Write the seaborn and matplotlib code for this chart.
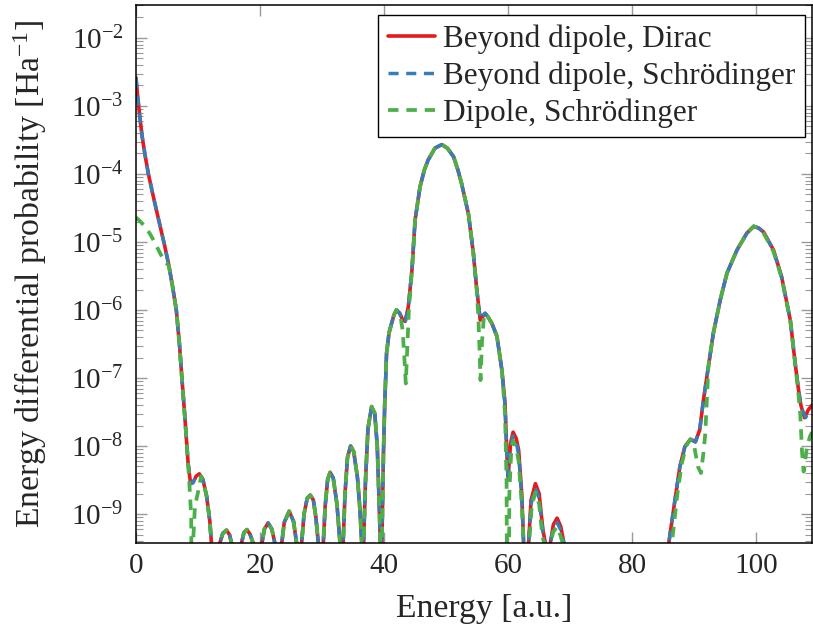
import numpy as np
import pandas as pd
import matplotlib
matplotlib.use("Agg")
import matplotlib.pyplot as plt
import seaborn as sns
from matplotlib.ticker import FixedLocator, NullLocator, NullFormatter

# ---------------- data (energy [a.u.], probability [1/Ha]) ----------------
dirac = [
    (0.0, 2.6e-3), (0.25, 1.45e-3), (0.6, 7.1e-4), (1.0, 3.5e-4), (1.5, 1.8e-4), (2.0, 1.0e-4),
    (2.6, 5.6e-5), (3.2, 3.2e-5), (3.9, 1.7e-5), (4.6, 9.0e-6), (5.3, 4.5e-6), (5.9, 2.2e-6),
    (6.5, 1.0e-6), (7.0, 3.2e-7), (7.4, 1.0e-7), (7.9, 2.5e-8), (8.4, 5.6e-9), (8.8, 2.8e-9),
    (9.2, 2.9e-9), (9.7, 3.6e-9), (10.2, 3.9e-9), (10.8, 3.2e-9), (11.4, 1.8e-9), (11.9, 7.9e-10),
    (12.3, 2.5e-10), (12.6, 1e-12),
    (13.0, 1e-12), (13.5, 3.7e-10), (14.0, 5.2e-10), (14.6, 5.8e-10), (15.1, 4.9e-10), (15.4, 3.7e-10), (15.8, 1e-12),
    (16.5, 1e-12), (17.0, 3.7e-10), (17.4, 5.3e-10), (17.9, 5.9e-10), (18.4, 5.0e-10), (18.9, 3.7e-10), (19.3, 1e-12),
    (19.8, 1e-12), (20.3, 3.7e-10), (20.7, 6.0e-10), (21.3, 7.4e-10), (21.9, 6.0e-10), (22.4, 3.7e-10), (22.8, 1e-12),
    (23.1, 1e-12), (23.5, 3.7e-10), (23.9, 7.5e-10), (24.7, 1.1e-9), (25.4, 7.8e-10), (25.9, 3.7e-10), (26.3, 1e-12),
    (26.4, 1e-12), (26.7, 3.7e-10), (27.1, 1.0e-9), (27.6, 1.7e-9), (28.1, 1.9e-9), (28.6, 1.6e-9), (29.0, 9e-10),
    (29.4, 3.7e-10), (29.7, 1e-12),
    (29.9, 1e-12), (30.2, 3.7e-10), (30.5, 1.3e-9), (30.9, 3.2e-9), (31.3, 4.1e-9), (31.8, 3.4e-9), (32.4, 1.4e-9),
    (32.9, 3.7e-10), (33.1, 1e-12),
    (33.2, 1e-12), (33.4, 3.7e-10), (33.7, 2.0e-9), (34.1, 6.8e-9), (34.6, 1.0e-8), (35.1, 8.3e-9), (35.7, 3.5e-9),
    (36.1, 1.2e-9), (36.4, 3.7e-10), (36.5, 1e-12),
    (36.55, 1e-12), (36.7, 3.7e-10), (37.0, 3.0e-9), (37.4, 1.8e-8), (38.0, 3.8e-8), (38.5, 3.0e-8), (38.9, 1.0e-8),
    (39.2, 1.5e-9), (39.4, 3.7e-10), (39.5, 1e-12),
    (39.55, 1e-12), (39.65, 3.7e-10), (39.9, 7.8e-9), (40.1, 4.0e-8), (40.4, 2.3e-7), (40.8, 4.6e-7), (41.2, 6.3e-7),
    (41.6, 8.5e-7), (42.0, 1.0e-6), (42.5, 9.0e-7), (43.0, 7.2e-7), (43.4, 6.8e-7), (43.9, 1.1e-6), (44.5, 3.9e-6),
    (45.0, 2.1e-5), (45.8, 6.5e-5), (46.5, 1.15e-4), (47.1, 1.6e-4), (48.2, 2.4e-4), (49.3, 2.7e-4), (50.2, 2.4e-4),
    (51.2, 1.8e-4), (51.9, 1.15e-4), (52.5, 7.2e-5), (53.6, 2.6e-5), (54.4, 6.8e-6), (54.9, 2.2e-6), (55.5, 7.1e-7),
    (55.9, 8.0e-7), (56.3, 8.9e-7), (56.8, 7.8e-7), (57.4, 6.3e-7), (58.2, 4.1e-7), (59.0, 1.3e-7), (59.5, 4.3e-8),
    (59.8, 7.8e-9), (60.0, 3.5e-9), (60.4, 1.1e-8), (60.8, 1.6e-8), (61.3, 1.3e-8), (61.7, 8.7e-9), (62.2, 2.0e-9),
    (62.5, 3.7e-10), (62.8, 1e-12),
    (63.0, 1e-12), (63.3, 3.7e-10), (63.7, 1.6e-9), (64.4, 2.8e-9), (65.0, 2.0e-9), (65.6, 6e-10), (66.0, 3.7e-10), (66.3, 1e-12),
    (66.6, 1e-12), (66.8, 3.7e-10), (67.3, 7.0e-10), (67.9, 8.7e-10), (68.5, 6.5e-10), (69.0, 3.7e-10), (69.3, 1e-12),
    (85.6, 1e-12), (85.9, 3.7e-10), (86.9, 1.6e-9), (87.7, 5.0e-9), (88.5, 9.8e-9), (89.4, 1.26e-8), (90.2, 1.15e-8),
    (90.9, 1.74e-8), (91.5, 4.8e-8), (92.3, 1.5e-7), (93.1, 4.6e-7), (94.2, 1.4e-6), (95.3, 3.5e-6), (96.9, 7.6e-6),
    (98.5, 1.35e-5), (99.6, 1.7e-5), (100.4, 1.6e-5), (101.2, 1.4e-5), (102.8, 7.6e-6), (104.1, 3.1e-6), (105.5, 7.1e-7),
    (106.3, 1.6e-7), (106.8, 7.0e-8), (107.2, 4.0e-8), (107.8, 2.6e-8), (108.4, 3.4e-8), (109.0, 4.0e-8),
]

schroedinger = [
    (0.0, 2.6e-3), (0.25, 1.45e-3), (0.6, 7.1e-4), (1.0, 3.5e-4), (1.5, 1.8e-4), (2.0, 1.0e-4),
    (2.6, 5.6e-5), (3.2, 3.2e-5), (3.9, 1.7e-5), (4.6, 9.0e-6), (5.3, 4.5e-6), (5.9, 2.2e-6),
    (6.5, 1.0e-6), (7.0, 3.2e-7), (7.4, 1.0e-7), (7.9, 2.5e-8), (8.4, 5.6e-9), (8.8, 2.8e-9),
    (9.2, 2.9e-9), (9.7, 3.6e-9), (10.2, 3.9e-9), (10.8, 3.2e-9), (11.4, 1.8e-9), (11.9, 7.9e-10),
    (12.3, 2.5e-10), (12.6, 1e-12),
    (13.0, 1e-12), (13.5, 3.7e-10), (14.0, 5.2e-10), (14.6, 5.8e-10), (15.1, 4.9e-10), (15.4, 3.7e-10), (15.8, 1e-12),
    (16.5, 1e-12), (17.0, 3.7e-10), (17.4, 5.3e-10), (17.9, 5.9e-10), (18.4, 5.0e-10), (18.9, 3.7e-10), (19.3, 1e-12),
    (19.8, 1e-12), (20.3, 3.7e-10), (20.7, 6.0e-10), (21.3, 7.4e-10), (21.9, 6.0e-10), (22.4, 3.7e-10), (22.8, 1e-12),
    (23.1, 1e-12), (23.5, 3.7e-10), (23.9, 7.5e-10), (24.7, 1.1e-9), (25.4, 7.8e-10), (25.9, 3.7e-10), (26.3, 1e-12),
    (26.4, 1e-12), (26.7, 3.7e-10), (27.1, 1.0e-9), (27.6, 1.7e-9), (28.1, 1.9e-9), (28.6, 1.6e-9), (29.0, 9e-10),
    (29.4, 3.7e-10), (29.7, 1e-12),
    (29.9, 1e-12), (30.2, 3.7e-10), (30.5, 1.3e-9), (30.9, 3.2e-9), (31.3, 4.1e-9), (31.8, 3.4e-9), (32.4, 1.4e-9),
    (32.9, 3.7e-10), (33.1, 1e-12),
    (33.2, 1e-12), (33.4, 3.7e-10), (33.7, 2.0e-9), (34.1, 6.8e-9), (34.6, 1.0e-8), (35.1, 8.3e-9), (35.7, 3.5e-9),
    (36.1, 1.2e-9), (36.4, 3.7e-10), (36.5, 1e-12),
    (36.55, 1e-12), (36.7, 3.7e-10), (37.0, 3.0e-9), (37.4, 1.8e-8), (38.0, 3.8e-8), (38.5, 3.0e-8), (38.9, 1.0e-8),
    (39.2, 1.5e-9), (39.4, 3.7e-10), (39.5, 1e-12),
    (39.55, 1e-12), (39.65, 3.7e-10), (39.9, 7.8e-9), (40.1, 4.0e-8), (40.4, 2.3e-7), (40.8, 4.6e-7), (41.2, 6.3e-7),
    (41.6, 8.5e-7), (42.0, 1.0e-6), (42.5, 9.0e-7), (43.0, 7.0e-7), (43.4, 6.6e-7), (43.9, 1.1e-6), (44.5, 3.9e-6),
    (45.0, 2.1e-5), (45.8, 6.5e-5), (46.5, 1.15e-4), (47.1, 1.6e-4), (48.2, 2.4e-4), (49.3, 2.7e-4), (50.2, 2.4e-4),
    (51.2, 1.8e-4), (51.9, 1.15e-4), (52.5, 7.2e-5), (53.6, 2.6e-5), (54.4, 6.8e-6), (54.9, 2.2e-6), (55.5, 7.3e-7),
    (55.9, 8.3e-7), (56.3, 9.0e-7), (56.8, 7.8e-7), (57.4, 6.3e-7), (58.2, 4.1e-7), (59.0, 1.3e-7), (59.5, 4.0e-8),
    (59.8, 7.0e-9), (60.0, 3.0e-9), (60.4, 9.5e-9), (60.8, 1.4e-8), (61.3, 1.15e-8), (61.7, 7.5e-9), (62.2, 1.8e-9),
    (62.5, 3.7e-10), (62.8, 1e-12),
    (63.0, 1e-12), (63.3, 3.7e-10), (63.7, 1.4e-9), (64.4, 2.4e-9), (65.0, 1.7e-9), (65.6, 5.5e-10), (66.0, 3.7e-10), (66.3, 1e-12),
    (66.6, 1e-12), (66.8, 3.7e-10), (67.3, 6.2e-10), (67.9, 7.5e-10), (68.5, 5.8e-10), (69.0, 3.7e-10), (69.3, 1e-12),
    (85.6, 1e-12), (85.9, 3.7e-10), (86.9, 1.6e-9), (87.7, 5.0e-9), (88.5, 9.8e-9), (89.4, 1.26e-8), (90.2, 1.15e-8),
    (90.9, 1.74e-8), (91.5, 4.8e-8), (92.3, 1.5e-7), (93.1, 4.6e-7), (94.2, 1.4e-6), (95.3, 3.5e-6), (96.9, 7.6e-6),
    (98.5, 1.35e-5), (99.6, 1.7e-5), (100.4, 1.6e-5), (101.2, 1.4e-5), (102.8, 7.4e-6), (104.1, 3.0e-6), (105.5, 7.0e-7),
    (106.3, 1.6e-7), (106.8, 7.0e-8), (107.2, 3.8e-8), (107.8, 2.8e-8), (108.4, 2.5e-8), (109.0, 2.2e-8),
]

dipole = [
    (0.0, 2.3e-5), (0.7, 2.0e-5), (1.5, 1.66e-5), (2.3, 1.3e-5), (3.1, 9.5e-6), (3.9, 6.8e-6),
    (4.6, 5.2e-6), (5.3, 4.5e-6), (5.9, 2.2e-6), (6.5, 1.0e-6), (7.0, 3.2e-7), (7.4, 1.0e-7),
    (7.9, 2.5e-8), (8.4, 5.6e-9), (8.7, 2.0e-9), (8.9, 9e-10), (9.05, 1e-12), (9.2, 3.7e-10),
    (9.5, 1.3e-9), (10.05, 2.2e-9), (10.5, 3.6e-9), (10.8, 3.2e-9), (11.4, 1.8e-9), (11.9, 7.9e-10),
    (12.3, 2.5e-10), (12.6, 1e-12),
    (13.0, 1e-12), (13.5, 3.7e-10), (14.0, 5.2e-10), (14.6, 5.8e-10), (15.1, 4.9e-10), (15.4, 3.7e-10), (15.8, 1e-12),
    (16.5, 1e-12), (17.0, 3.7e-10), (17.4, 5.3e-10), (17.9, 5.9e-10), (18.4, 5.0e-10), (18.9, 3.7e-10), (19.3, 1e-12),
    (19.8, 1e-12), (20.3, 3.7e-10), (20.7, 6.0e-10), (21.3, 7.4e-10), (21.9, 6.0e-10), (22.4, 3.7e-10), (22.8, 1e-12),
    (23.1, 1e-12), (23.5, 3.7e-10), (23.9, 7.5e-10), (24.7, 1.1e-9), (25.4, 7.8e-10), (25.9, 3.7e-10), (26.3, 1e-12),
    (26.4, 1e-12), (26.7, 3.7e-10), (27.1, 1.0e-9), (27.6, 1.7e-9), (28.1, 1.9e-9), (28.6, 1.6e-9), (29.0, 9e-10),
    (29.4, 3.7e-10), (29.7, 1e-12),
    (29.9, 1e-12), (30.2, 3.7e-10), (30.5, 1.3e-9), (30.9, 3.2e-9), (31.3, 4.1e-9), (31.8, 3.4e-9), (32.4, 1.4e-9),
    (32.9, 3.7e-10), (33.1, 1e-12),
    (33.2, 1e-12), (33.4, 3.7e-10), (33.7, 2.0e-9), (34.1, 6.8e-9), (34.6, 1.0e-8), (35.1, 8.3e-9), (35.7, 3.5e-9),
    (36.1, 1.2e-9), (36.4, 3.7e-10), (36.5, 1e-12),
    (36.55, 1e-12), (36.7, 3.7e-10), (37.0, 3.0e-9), (37.4, 1.8e-8), (38.0, 3.8e-8), (38.5, 3.0e-8), (38.9, 1.0e-8),
    (39.2, 1.5e-9), (39.4, 3.7e-10), (39.5, 1e-12),
    (39.55, 1e-12), (39.65, 3.7e-10), (39.9, 7.8e-9), (40.1, 4.0e-8), (40.4, 2.3e-7), (40.8, 4.6e-7), (41.2, 6.3e-7),
    (41.6, 8.5e-7), (42.0, 1.0e-6), (42.6, 8.5e-7), (43.0, 5.0e-7), (43.3, 1.8e-7), (43.5, 8.3e-8), (43.75, 3.0e-7),
    (44.0, 1.0e-6), (44.5, 3.9e-6),
    (45.0, 2.1e-5), (45.8, 6.5e-5), (46.5, 1.15e-4), (47.1, 1.6e-4), (48.2, 2.4e-4), (49.3, 2.7e-4), (50.2, 2.4e-4),
    (51.2, 1.8e-4), (51.9, 1.15e-4), (52.5, 7.2e-5), (53.6, 2.6e-5), (54.4, 6.8e-6), (54.9, 2.2e-6), (55.2, 8.0e-7),
    (55.4, 2.5e-7), (55.55, 9.3e-8), (55.8, 3.5e-7), (56.1, 8.0e-7), (56.3, 8.9e-7), (56.8, 7.8e-7), (57.4, 6.3e-7),
    (58.2, 4.1e-7), (59.0, 1.3e-7), (59.5, 3.0e-8), (59.75, 3.0e-9), (59.9, 1e-12),
    (60.05, 1e-12), (60.2, 2.0e-9), (60.5, 8.5e-9), (60.8, 1.2e-8), (61.3, 9.5e-9), (61.7, 6.0e-9), (62.2, 1.4e-9),
    (62.5, 3.7e-10), (62.8, 1e-12),
    (63.2, 1e-12), (63.4, 3.7e-10), (63.8, 1.3e-9), (64.4, 2.1e-9), (65.0, 1.4e-9), (65.5, 5.0e-10), (65.8, 3.7e-10), (66.1, 1e-12),
    (66.5, 1e-12), (66.8, 3.7e-10), (67.3, 5.5e-10), (67.9, 6.5e-10), (68.4, 5.0e-10), (68.8, 3.7e-10), (69.1, 1e-12),
    (86.1, 1e-12), (86.4, 3.7e-10), (87.3, 2.0e-9), (88.0, 5.5e-9), (88.7, 1.0e-8), (89.4, 1.26e-8), (90.0, 1.0e-8),
    (90.6, 5.0e-9), (91.1, 4.0e-9), (91.5, 8.0e-9), (91.8, 1.55e-8), (92.3, 1.5e-7), (93.1, 4.6e-7), (94.2, 1.4e-6),
    (95.3, 3.5e-6), (96.9, 7.6e-6), (98.5, 1.35e-5), (99.6, 1.7e-5), (100.4, 1.6e-5), (101.2, 1.35e-5), (102.8, 7.2e-6),
    (104.1, 3.0e-6), (105.5, 7.1e-7), (106.3, 1.6e-7), (106.8, 6.0e-8), (107.1, 3.0e-8), (107.4, 8.0e-9),
    (107.65, 4.2e-9), (108.2, 9.8e-9), (108.7, 1.4e-8), (109.0, 1.6e-8),
]

labels = ["Beyond dipole, Dirac", "Beyond dipole, Schrödinger", "Dipole, Schrödinger"]
x_ticks = [0, 20, 40, 60, 80, 100]
y_decades = [-9, -8, -7, -6, -5, -4, -3, -2]
x_range = (0, 109)
y_range = (3.75e-10, 3.05e-2)

# ---------------- style ----------------
sns.set_theme(style="ticks")
plt.rcParams.update({
    "font.family": ["Liberation Serif", "DejaVu Serif"],
    "mathtext.fontset": "custom",
    "mathtext.rm": "Liberation Serif",
    "mathtext.it": "Liberation Serif:italic",
    "mathtext.bf": "Liberation Serif:bold",
    "axes.unicode_minus": True,
})

fig = plt.figure(figsize=(8.13, 6.28), dpi=100)
ax = fig.add_axes([136 / 813, 85 / 628, 676 / 813, 538 / 628])

styles = [
    ("#e41a1c", 2.6, "-"),
    ("#377eb8", 2.5, (0, (2.9, 2.2))),
    ("#4daf4a", 2.7, (0, (2.8, 2.1))),
]
for pts, lab, (col, lw, ls) in zip([dirac, schroedinger, dipole], labels, styles):
    d = pd.DataFrame(pts, columns=["E", "P"])
    sns.lineplot(data=d, x="E", y="P", ax=ax, color=col, linewidth=lw, linestyle=ls,
                 label=lab, sort=False, estimator=None)

ax.set_yscale("log")
ax.set_xlim(*x_range)
ax.set_ylim(*y_range)
major_y = [10.0 ** k for k in y_decades]
minor_y = [m * 10.0 ** k for k in [-10] + y_decades for m in range(2, 10)
           if y_range[0] <= m * 10.0 ** k <= y_range[1]]
ax.xaxis.set_major_locator(FixedLocator(x_ticks))
ax.xaxis.set_minor_locator(NullLocator())
ax.yaxis.set_major_locator(FixedLocator(major_y))
ax.yaxis.set_minor_locator(FixedLocator(minor_y))
ax.yaxis.set_minor_formatter(NullFormatter())

ax.tick_params(which="both", direction="in", top=True, right=True, color="#999999",
               labelsize=21)
ax.tick_params(which="major", length=8, width=1.0)
ax.tick_params(which="minor", length=5, width=0.8)
ax.tick_params(axis="y", which="major", pad=9)
ax.tick_params(axis="x", which="major", pad=7)

for s in ax.spines.values():
    s.set_color("black")
    s.set_linewidth(1.1)

ax.set_xlabel("Energy [a.u.]", fontsize=24.3)
ax.set_ylabel("Energy differential probability [Ha$^{-1}$]", fontsize=24.3)
ax.xaxis.set_label_coords(0.515, -0.093)
ax.yaxis.set_label_coords(-0.128, 0.5)

leg = ax.legend(loc="upper right", bbox_to_anchor=(0.9897, 0.9814), borderaxespad=0,
                frameon=True, fancybox=False, framealpha=1, edgecolor="black",
                fontsize=22.5, handlelength=1.5, handletextpad=0.28, labelspacing=0.24,
                borderpad=0.3)
leg.get_frame().set_linewidth(1.0)

fig.savefig("out.png", dpi=100)
